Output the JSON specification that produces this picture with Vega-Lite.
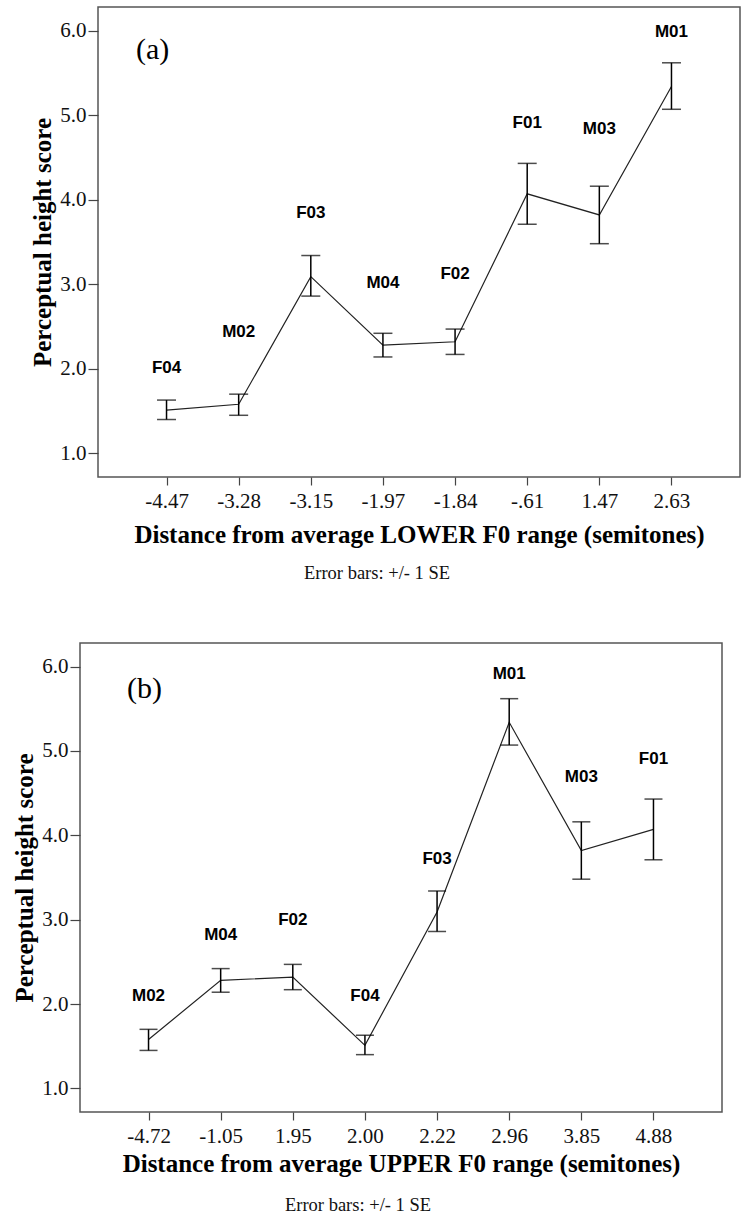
{
  "$schema": "https://vega.github.io/schema/vega-lite/v6.json",
  "padding": {"left": 12, "top": 6, "right": 0, "bottom": 0},
  "background": "white",
  "datasets": {
    "lowerRange": [
      {"name": "F04", "dist": -4.47, "distLabel": "-4.47", "mean": 1.51, "lower": 1.40, "upper": 1.63, "labelY": 2.01},
      {"name": "M02", "dist": -3.28, "distLabel": "-3.28", "mean": 1.58, "lower": 1.45, "upper": 1.70, "labelY": 2.43},
      {"name": "F03", "dist": -3.15, "distLabel": "-3.15", "mean": 3.09, "lower": 2.86, "upper": 3.34, "labelY": 3.84},
      {"name": "M04", "dist": -1.97, "distLabel": "-1.97", "mean": 2.28, "lower": 2.14, "upper": 2.42, "labelY": 3.01},
      {"name": "F02", "dist": -1.84, "distLabel": "-1.84", "mean": 2.32, "lower": 2.17, "upper": 2.47, "labelY": 3.12},
      {"name": "F01", "dist": -0.61, "distLabel": "-.61", "mean": 4.07, "lower": 3.71, "upper": 4.43, "labelY": 4.91},
      {"name": "M03", "dist": 1.47, "distLabel": "1.47", "mean": 3.82, "lower": 3.48, "upper": 4.16, "labelY": 4.84},
      {"name": "M01", "dist": 2.63, "distLabel": "2.63", "mean": 5.34, "lower": 5.07, "upper": 5.62, "labelY": 5.98}
    ],
    "upperRange": [
      {"name": "M02", "dist": -4.72, "distLabel": "-4.72", "mean": 1.58, "lower": 1.45, "upper": 1.70, "labelY": 2.10},
      {"name": "M04", "dist": -1.05, "distLabel": "-1.05", "mean": 2.28, "lower": 2.14, "upper": 2.42, "labelY": 2.82},
      {"name": "F02", "dist": 1.95, "distLabel": "1.95", "mean": 2.32, "lower": 2.17, "upper": 2.47, "labelY": 3.00},
      {"name": "F04", "dist": 2.00, "distLabel": "2.00", "mean": 1.51, "lower": 1.40, "upper": 1.63, "labelY": 2.10},
      {"name": "F03", "dist": 2.22, "distLabel": "2.22", "mean": 3.09, "lower": 2.86, "upper": 3.34, "labelY": 3.72},
      {"name": "M01", "dist": 2.96, "distLabel": "2.96", "mean": 5.34, "lower": 5.07, "upper": 5.62, "labelY": 5.91},
      {"name": "M03", "dist": 3.85, "distLabel": "3.85", "mean": 3.82, "lower": 3.48, "upper": 4.16, "labelY": 4.69},
      {"name": "F01", "dist": 4.88, "distLabel": "4.88", "mean": 4.07, "lower": 3.71, "upper": 4.43, "labelY": 4.91}
    ]
  },
  "config": {
    "view": {"stroke": "#555555", "strokeWidth": 1.5},
    "axis": {
      "domain": false,
      "grid": false,
      "tickColor": "#444444",
      "tickWidth": 1.2,
      "labelFont": "Liberation Serif",
      "labelFontSize": 21,
      "labelColor": "#111111",
      "titleFont": "Liberation Serif",
      "titleFontSize": 25,
      "titleFontWeight": "bold",
      "titleColor": "#000000"
    },
    "axisX": {"tickSize": 8, "labelPadding": 5, "labelAngle": 0},
    "axisY": {"tickSize": 10, "labelPadding": 2, "titlePadding": 4},
    "title": {"font": "Liberation Serif", "fontSize": 18.5, "fontWeight": "normal", "color": "#111111"}
  },
  "spacing": 58,
  "vconcat": [
    {
      "spacing": -51,
      "hconcat": [
        {
          "width": 1,
          "height": 10,
          "view": {"stroke": null},
          "data": {"values": [{"t": ""}]},
          "mark": {"type": "text"},
          "encoding": {"text": {"field": "t"}}
        },
        {
          "width": 642,
          "height": 470,
          "data": {"name": "lowerRange"},
          "title": {"text": "Error bars: +/- 1 SE", "orient": "bottom", "anchor": "middle", "frame": "group", "dx": -42, "offset": 17},
          "encoding": {
            "x": {
              "field": "distLabel",
              "type": "ordinal",
              "sort": {"field": "dist", "op": "min"},
              "scale": {"type": "point", "padding": 0.95},
              "axis": {"title": "Distance from average LOWER F0 range (semitones)", "titlePadding": 11}
            }
          },
          "layer": [
            {
              "mark": {"type": "line", "color": "#222222", "strokeWidth": 1.2},
              "encoding": {
                "y": {
                  "field": "mean",
                  "type": "quantitative",
                  "scale": {"domain": [0.72, 6.28], "nice": false, "zero": false},
                  "axis": {"title": "Perceptual height score", "values": [1, 2, 3, 4, 5, 6], "format": ".1f"}
                },
                "order": {"field": "dist", "type": "quantitative"}
              }
            },
            {
              "mark": {"type": "rule", "color": "#000000", "strokeWidth": 1.5},
              "encoding": {
                "y": {"field": "lower", "type": "quantitative"},
                "y2": {"field": "upper"}
              }
            },
            {
              "mark": {"type": "tick", "color": "#000000", "size": 19, "thickness": 1.5},
              "encoding": {"y": {"field": "upper", "type": "quantitative"}}
            },
            {
              "mark": {"type": "tick", "color": "#000000", "size": 19, "thickness": 1.5},
              "encoding": {"y": {"field": "lower", "type": "quantitative"}}
            },
            {
              "mark": {"type": "text", "font": "Liberation Sans", "fontSize": 17, "fontWeight": "bold", "baseline": "middle", "align": "center", "color": "#000000"},
              "encoding": {
                "y": {"field": "labelY", "type": "quantitative"},
                "text": {"field": "name"}
              }
            },
            {
              "transform": [{"filter": "datum.dist == -4.47"}],
              "mark": {"type": "text", "font": "Liberation Serif", "fontSize": 30, "baseline": "middle", "align": "center", "dx": -14, "color": "#000000"},
              "encoding": {
                "y": {"datum": 5.77},
                "text": {"value": "(a)"}
              }
            }
          ]
        }
      ]
    },
    {
      "width": 642,
      "height": 469,
      "data": {"name": "upperRange"},
      "title": {"text": "Error bars: +/- 1 SE", "orient": "bottom", "anchor": "middle", "frame": "group", "dx": -43, "offset": 20},
      "encoding": {
        "x": {
          "field": "distLabel",
          "type": "ordinal",
          "sort": {"field": "dist", "op": "min"},
          "scale": {"type": "point", "padding": 0.95},
          "axis": {"title": "Distance from average UPPER F0 range (semitones)", "titlePadding": 5}
        }
      },
      "layer": [
        {
          "mark": {"type": "line", "color": "#222222", "strokeWidth": 1.2},
          "encoding": {
            "y": {
              "field": "mean",
              "type": "quantitative",
              "scale": {"domain": [0.72, 6.28], "nice": false, "zero": false},
              "axis": {"title": "Perceptual height score", "values": [1, 2, 3, 4, 5, 6], "format": ".1f"}
            },
            "order": {"field": "dist", "type": "quantitative"}
          }
        },
        {
          "mark": {"type": "rule", "color": "#000000", "strokeWidth": 1.5},
          "encoding": {
            "y": {"field": "lower", "type": "quantitative"},
            "y2": {"field": "upper"}
          }
        },
        {
          "mark": {"type": "tick", "color": "#000000", "size": 18, "thickness": 1.5},
          "encoding": {"y": {"field": "upper", "type": "quantitative"}}
        },
        {
          "mark": {"type": "tick", "color": "#000000", "size": 18, "thickness": 1.5},
          "encoding": {"y": {"field": "lower", "type": "quantitative"}}
        },
        {
          "mark": {"type": "text", "font": "Liberation Sans", "fontSize": 17, "fontWeight": "bold", "baseline": "middle", "align": "center", "color": "#000000"},
          "encoding": {
            "y": {"field": "labelY", "type": "quantitative"},
            "text": {"field": "name"}
          }
        },
        {
          "transform": [{"filter": "datum.dist == -4.72"}],
          "mark": {"type": "text", "font": "Liberation Serif", "fontSize": 30, "baseline": "middle", "align": "center", "dx": -4, "color": "#000000"},
          "encoding": {
            "y": {"datum": 5.74},
            "text": {"value": "(b)"}
          }
        }
      ]
    }
  ]
}
